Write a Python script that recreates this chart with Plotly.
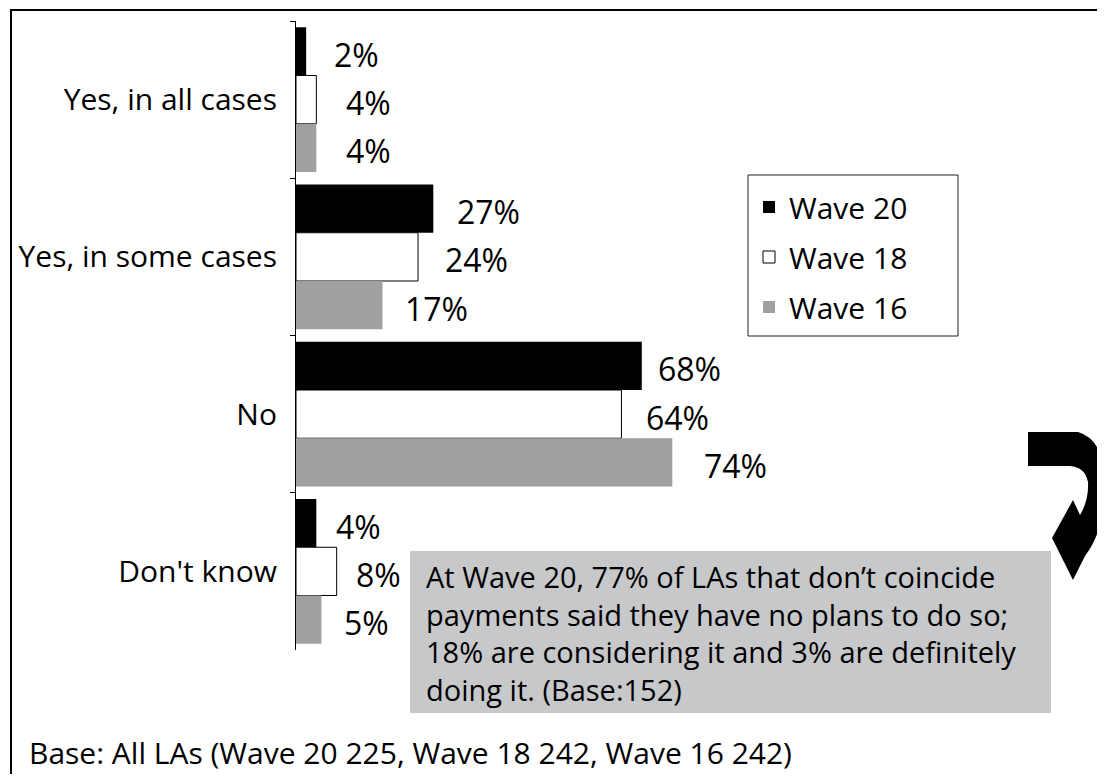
import plotly.graph_objects as go

# ---------------- data ----------------
categories = ["Yes, in all cases", "Yes, in some cases", "No", "Don't know"]
series_names = ["Wave 20", "Wave 18", "Wave 16"]
wave20 = [2, 27, 68, 4]
wave18 = [4, 24, 64, 8]
wave16 = [4, 17, 74, 5]
base_note = "Base: All LAs (Wave 20 225, Wave 18 242, Wave 16 242)"
callout_lines = [
    "At Wave 20, 77% of LAs that don\u2019t coincide",
    "payments said they have no plans to do so;",
    "18% are considering it and 3% are definitely",
    "doing it. (Base:152)",
]

# ---------------- style ----------------
PAGE_OFF = 8                      # default body margin of the html page
W, H = 1105 - 2 * PAGE_OFF, 782 - 2 * PAGE_OFF
L, R, T, B = 288, 20, 13, 124
PX_PER_PCT = 5.085
BARGAP = 0.08
FONT = "Open Sans"
FS_TICK = 30
FS_LABEL = 32
FS_CALLOUT = 29
FS_BASE = 30
colors = ["#000000", "#ffffff", "#a0a0a2"]
line_widths = [0, 1, 0]
# gap (px) between bar end and its label, per series
label_gap = [
    [26, 22, 14, 18],
    [28, 25, 23, 17],
    [28, 21, 30, 21],
]

plot_w = W - L - R
plot_h = H - T - B
xmax = plot_w / PX_PER_PCT
cat_px = plot_h / len(categories)
bar_px = cat_px * (1 - BARGAP) / 3


def px(x):
    """page pixel x -> paper coordinate"""
    return (x - PAGE_OFF - L) / plot_w


def py(y):
    """page pixel y -> paper coordinate"""
    return (H - B - (y - PAGE_OFF)) / plot_h


def pixel_path(pts, close=True):
    out = ""
    for p in pts:
        cmd, coords = p[0], p[1:]
        pairs = [f"{px(coords[k]):.5f},{py(coords[k + 1]):.5f}" for k in range(0, len(coords), 2)]
        out += cmd + " " + " ".join(pairs) + " "
    return out + ("Z" if close else "")


values = [wave20, wave18, wave16]

fig = go.Figure()
for i, (name, vals) in enumerate(zip(series_names, values)):
    fig.add_trace(go.Bar(
        orientation="h",
        y=categories,
        x=vals,
        name=name,
        legendgroup=name,
        marker=dict(color=colors[i], line=dict(color="#000000", width=line_widths[i])),
        hoverinfo="skip",
    ))

annotations = []
for i, vals in enumerate(values):
    for j, v in enumerate(vals):
        annotations.append(dict(
            x=v, y=categories[j], xref="x", yref="y",
            text=f"{v}%", showarrow=False,
            xanchor="left", yanchor="middle",
            xshift=label_gap[i][j], yshift=(1 - i) * bar_px - 3,
            font=dict(family=FONT, size=FS_LABEL, color="#000000"),
        ))

# callout text
annotations.append(dict(
    x=px(424), y=py(633), xref="paper", yref="paper",
    text="<br>".join(callout_lines), showarrow=False,
    xanchor="left", yanchor="middle", align="left",
    font=dict(family=FONT, size=FS_CALLOUT, color="#000000"),
))
# base note
annotations.append(dict(
    x=px(27), y=py(752), xref="paper", yref="paper",
    text=base_note, showarrow=False,
    xanchor="left", yanchor="middle", align="left",
    font=dict(family=FONT, size=FS_BASE, color="#000000"),
))

arrow_pts = [
    ("M", 1028, 432), ("L", 1078, 432), ("Q", 1105, 440, 1105, 485),
    ("Q", 1105, 530, 1085, 556), ("L", 1073, 580), ("L", 1052, 538),
    ("L", 1073, 500), ("L", 1080, 515), ("Q", 1089, 500, 1088, 482),
    ("Q", 1085, 467, 1070, 466), ("L", 1028, 466),
]
frame_pts = [("M", 11, 1000), ("L", 11, 10), ("L", 1300, 10)]

shapes = [
    # outer frame (only left and top edges fall inside the picture)
    dict(type="path", xref="paper", yref="paper", path=pixel_path(frame_pts, close=False),
         line=dict(color="#000000", width=2), fillcolor="rgba(0,0,0,0)", layer="below"),
    # legend box
    dict(type="rect", xref="paper", yref="paper", x0=px(748), x1=px(958), y0=py(175), y1=py(336),
         line=dict(color="#222222", width=1), fillcolor="rgba(0,0,0,0)"),
    # callout box
    dict(type="rect", xref="paper", yref="paper", x0=px(410), x1=px(1051), y0=py(551), y1=py(713),
         line=dict(width=0), fillcolor="#c7c8ca"),
    # curved arrow
    dict(type="path", xref="paper", yref="paper", path=pixel_path(arrow_pts),
         line=dict(width=0), fillcolor="#000000"),
]

fig.update_layout(
    width=W, height=H,
    margin=dict(l=L, r=R, t=T, b=B, autoexpand=False),
    paper_bgcolor="#ffffff", plot_bgcolor="#ffffff",
    barmode="group", bargap=BARGAP, bargroupgap=0,
    font=dict(family=FONT, size=FS_TICK, color="#000000"),
    showlegend=True,
    legend=dict(
        x=px(749), y=py(181), xanchor="left", yanchor="top",
        xref="paper", yref="paper",
        bgcolor="rgba(0,0,0,0)", borderwidth=0,
        font=dict(family=FONT, size=FS_TICK, color="#000000"),
        tracegroupgap=8, traceorder="grouped",
    ),
    xaxis=dict(visible=False, range=[0, xmax], fixedrange=True),
    yaxis=dict(
        type="category", categoryorder="array", categoryarray=categories,
        range=[len(categories) - 0.5, -0.5],
        showline=True, linecolor="#000000", linewidth=1,
        ticks="outside", ticklen=5, tickcolor="#000000", tickwidth=1,
        tickson="boundaries", showgrid=False, zeroline=False,
        ticklabelstandoff=12,
        tickfont=dict(family=FONT, size=FS_TICK, color="#000000"),
        fixedrange=True,
    ),
    annotations=annotations,
    shapes=shapes,
)

fig.write_html("out.html")
